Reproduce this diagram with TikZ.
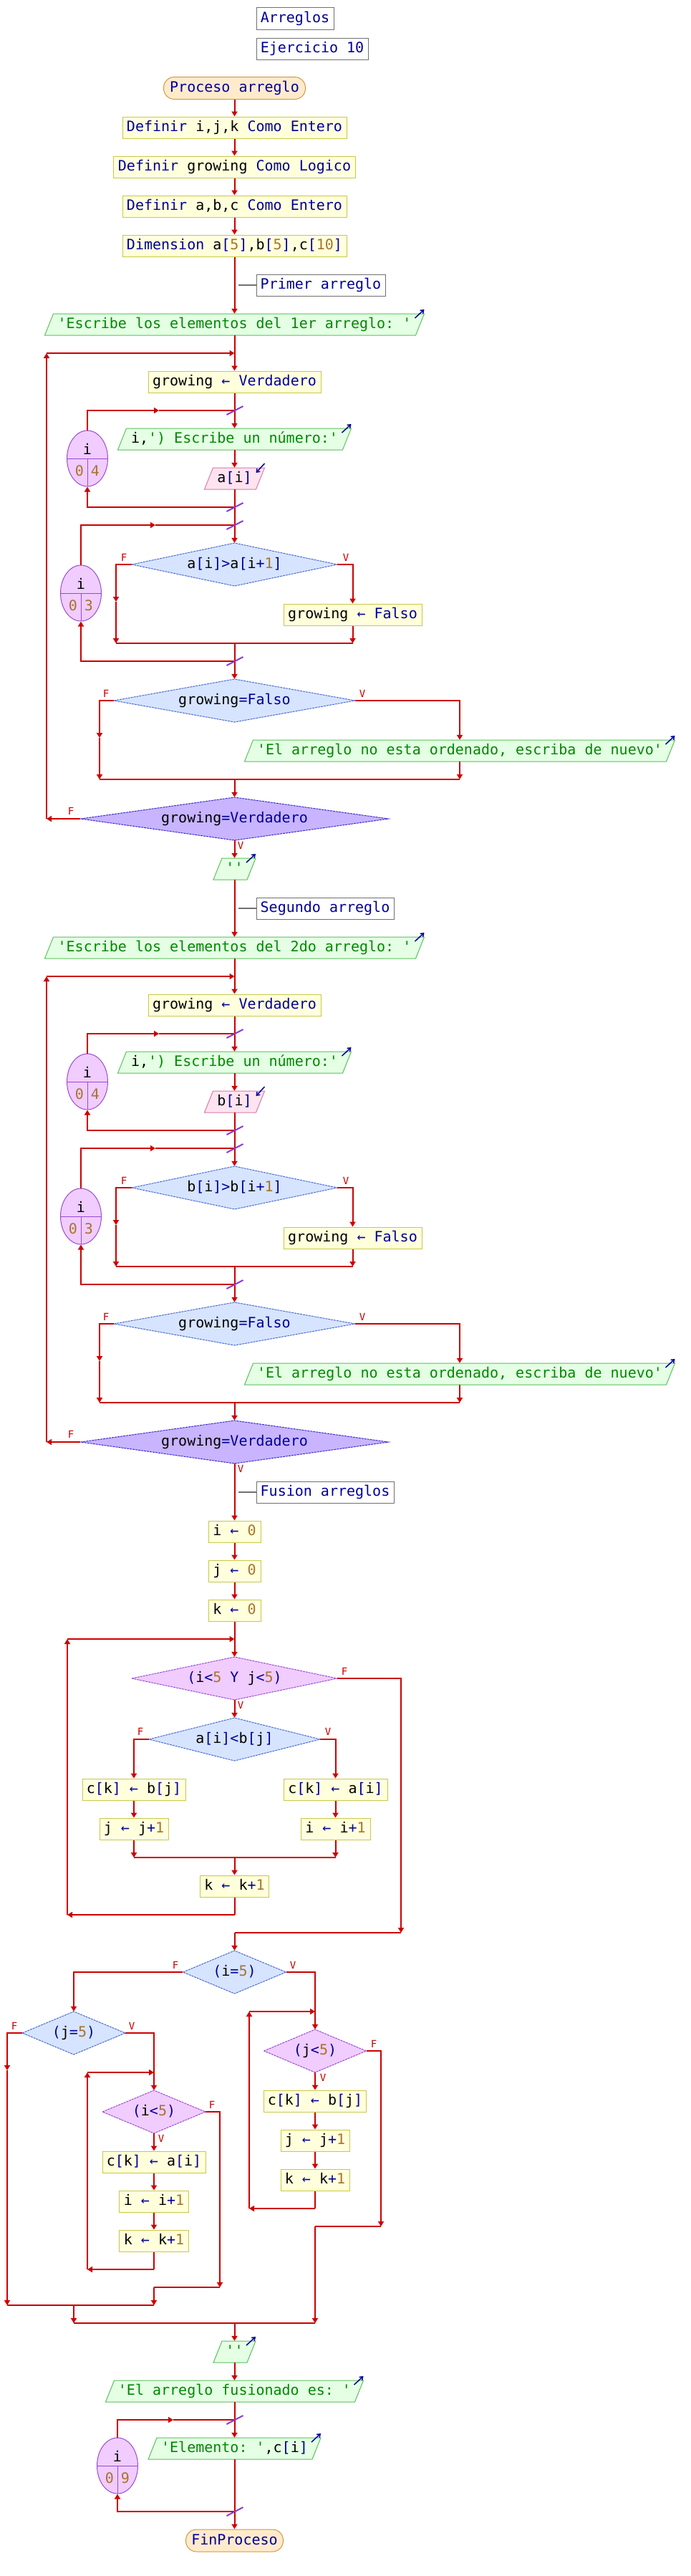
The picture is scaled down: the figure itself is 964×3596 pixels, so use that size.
\documentclass[tikz,border=0pt]{standalone}
\usepackage{fontspec}
\setmonofont{DejaVu Sans Mono}
\usetikzlibrary{arrows.meta,calc,shapes.geometric}
\definecolor{flowred}{HTML}{CC0000}
\definecolor{procfill}{HTML}{FFFFDC}
\definecolor{procline}{HTML}{C8C84A}
\definecolor{outfill}{HTML}{E4FFE4}
\definecolor{outcol}{HTML}{5CC05C}
\definecolor{infill}{HTML}{FFE4F0}
\definecolor{incol}{HTML}{D87AA8}
\definecolor{sifill}{HTML}{D6E4FF}
\definecolor{sicol}{HTML}{4A6AD0}
\definecolor{repfill}{HTML}{C8B4FF}
\definecolor{repcol}{HTML}{3A2AC8}
\definecolor{whfill}{HTML}{F0CCFF}
\definecolor{whcol}{HTML}{9A4AD0}
\definecolor{termfill}{HTML}{FFEBCC}
\definecolor{termcol}{HTML}{D09A40}
\definecolor{cmtcol}{HTML}{707070}
\definecolor{kwcol}{HTML}{000099}
\definecolor{numcol}{HTML}{A8732C}
\definecolor{strcol}{HTML}{008800}
\definecolor{slashcol}{HTML}{8A3CD0}
\newcommand\kwc[1]{\textcolor{kwcol}{#1}}
\newcommand\numc[1]{\textcolor{numcol}{#1}}
\newcommand\strc[1]{\textcolor{strcol}{#1}}
\tikzset{
 base/.style={font=\ttfamily\fontsize{20}{24}\selectfont, inner sep=0pt, minimum height=30pt, text height=15pt, text depth=4pt},
 proc/.style={base, draw=procline, fill=procfill, line width=1pt},
 cmt/.style={base, draw=cmtcol, fill=white, line width=1pt, text=kwcol},
 term/.style={base, draw=termcol, fill=termfill, line width=1pt, rounded corners=15pt, text=kwcol},
 txt/.style={base},
 flow/.style={draw=flowred, line width=2pt},
 arr/.style={flow, -{Triangle[length=7pt,width=8pt]}},
 lbl/.style={font=\ttfamily\fontsize{14}{16}\selectfont, text=flowred, inner sep=0pt},
 outshape/.style={fill=outfill, draw=outcol, line width=1pt},
 inshape/.style={fill=infill, draw=incol, line width=1pt},
 sist/.style={fill=sifill, draw=sicol, line width=1pt, dash pattern=on 3pt off 1pt},
 repst/.style={fill=repfill, draw=repcol, line width=1pt, dash pattern=on 3pt off 1pt},
 whst/.style={fill=whfill, draw=whcol, line width=1pt, dash pattern=on 3pt off 1pt},
 forshape/.style={ellipse, fill=whfill, draw=whcol, line width=1pt, minimum width=57pt, minimum height=78pt, inner sep=0pt},
 forline/.style={draw=whcol, line width=1pt},
 glyph/.style={draw=kwcol, line width=1.5pt, -{Straight Barb[length=4pt,width=6pt]}},
 slashst/.style={draw=slashcol, line width=2pt},
 cmtlink/.style={draw=cmtcol, line width=2pt},
}
\newcommand\outnode[5]{%
 \path[outshape] ({#2-#4/2},{#3+15}) -- ({#2-#4/2+12},{#3-15}) -- ({#2+#4/2},{#3-15}) -- ({#2+#4/2-12},{#3+15}) -- cycle;
 \node[txt, minimum width=#4] (#1) at (#2,#3) {#5};
 \draw[glyph] ({#2+#4/2-13},{#3-9}) -- ({#2+#4/2},{#3-21});
}
\newcommand\innode[5]{%
 \path[inshape] ({#2-#4/2},{#3+15}) -- ({#2-#4/2+12},{#3-15}) -- ({#2+#4/2},{#3-15}) -- ({#2+#4/2-12},{#3+15}) -- cycle;
 \node[txt, minimum width=#4] (#1) at (#2,#3) {#5};
 \draw[glyph] ({#2+#4/2},{#3-21}) -- ({#2+#4/2-12},{#3-8});
}
\newcommand\dnode[6]{%
 \path[#5] ({#2-#4/2},#3) -- (#2,{#3-30}) -- ({#2+#4/2},#3) -- (#2,{#3+30}) -- cycle;
 \node[txt, minimum width=#4, minimum height=60pt] (#1) at (#2,#3) {#6};
}
\newcommand\fornode[6]{%
 \node[forshape] (#1) at (#2,#3) {};
 \draw[forline] ({#2-28.5},#3) -- ({#2+28.5},#3);
 \draw[forline] (#2,#3) -- (#2,{#3+39});
 \node[txt] (#1v) at (#2,{#3-11}) {#4};
 \node[txt, text=numcol] (#1lo) at ({#2-11},{#3+19}) {#5};
 \node[txt, text=numcol] (#1hi) at ({#2+11},{#3+19}) {#6};
}
\newcommand\slashmark[2]{\draw[slashst] ({#1-11},{#2+6}) -- ({#1+12},{#2-6});}
\newcommand\arrsec[4]{%
\begin{scope}[shift={(0,#4)}]
\outnode{#1o}{327.5}{453}{530}{\strc{'Escribe los elementos del #3 arreglo: '}}
\coordinate (#1rj) at (327.5,493);
\coordinate (#1rt) at (65,493);
\coordinate (#1rl) at (65,1143);
\node[proc, minimum width=241] (#1g) at (327.5,533) {growing \kwc{← Verdadero}};
\coordinate (#1fa) at (327.5,573);
\coordinate (#1fam) at (222,573);
\outnode{#1p}{327.5}{613}{326}{i,\strc{') Escribe un número:'}}
\innode{#1in}{327.5}{668}{84}{#2\kwc{[}i\kwc{]}}
\coordinate (#1fb) at (327.5,708);
\fornode{#1ea}{122}{640}{i}{0}{4}
\coordinate (#1fc) at (327.5,733);
\coordinate (#1fcm) at (217,733);
\fornode{#1eb}{113}{828}{i}{0}{3}
\dnode{#1sa}{327.5}{788}{287}{sist}{#2\kwc{[}i\kwc{]>}#2\kwc{[}i\kwc{+}\numc{1}\kwc{]}}
\node[proc, minimum width=193] (#1gf) at (492.5,858) {growing \kwc{← Falso}};
\coordinate (#1sam) at (162,840);
\coordinate (#1jal) at (162,898);
\coordinate (#1jar) at (492.5,898);
\coordinate (#1jam) at (327.5,898);
\coordinate (#1fd) at (327.5,923);
\dnode{#1sb}{327.5}{978}{337}{sist}{growing\kwc{=Falso}}
\outnode{#1oe}{642}{1048}{601}{\strc{'El arreglo no esta ordenado, escriba de nuevo'}}
\coordinate (#1sbm) at (139,1030);
\coordinate (#1jbl) at (139,1088);
\coordinate (#1jbr) at (642,1088);
\coordinate (#1jbm) at (327.5,1088);
\dnode{#1r}{327.5}{1143}{430}{repst}{growing\kwc{=Verdadero}}
\node[lbl] (#1saF) at (173,778) {F};
\node[lbl] (#1saV) at (483,778) {V};
\node[lbl] (#1sbF) at (148,968) {F};
\node[lbl] (#1sbV) at (506,968) {V};
\node[lbl] (#1rF) at (99,1132) {F};
\node[lbl] (#1rV) at (336,1180) {V};
\draw[arr] (#1o.south) -- (#1g.north);
\draw[arr] (#1g.south) -- (#1p.north);
\draw[arr] (#1p.south) -- (#1in.north);
\draw[arr] (#1in.south) -- (#1sa.north);
\draw[arr] (#1ea.north) |- (#1fam);
\draw[flow] (#1fam) -- (#1fa);
\draw[arr] (#1fb) -| (#1ea.south);
\draw[arr] (#1eb.north) |- (#1fcm);
\draw[flow] (#1fcm) -- (#1fc);
\draw[arr] (#1fd) -| (#1eb.south);
\draw[arr] (#1sa.west) -| (#1sam);
\draw[arr] (#1sam) -- (#1jal);
\draw[arr] (#1sa.east) -| (#1gf.north);
\draw[arr] (#1gf.south) -- (#1jar);
\draw[flow] (#1jal) -- (#1jar);
\draw[arr] (#1jam) -- (#1sb.north);
\draw[arr] (#1sb.west) -| (#1sbm);
\draw[arr] (#1sbm) -- (#1jbl);
\draw[arr] (#1sb.east) -| (#1oe.north);
\draw[arr] (#1oe.south) -- (#1jbr);
\draw[flow] (#1jbl) -- (#1jbr);
\draw[arr] (#1jbm) -- (#1r.north);
\draw[arr] (#1r.west) -- (#1rl);
\draw[arr] (#1rl) -- (#1rt);
\draw[arr] (#1rt) -- (#1rj);
\slashmark{327.5}{573}\slashmark{327.5}{708}\slashmark{327.5}{733}\slashmark{327.5}{923}
\end{scope}}
\begin{document}
\begin{tikzpicture}[x=1pt,y=-1pt]
\useasboundingbox (0,0) rectangle (964,3596);
\fill[white] (0,0) rectangle (964,3596);
% header
\node[cmt, minimum width=108, minimum height=31] (cmA) at (412,25.5) {Arreglos};
\node[cmt, minimum width=156] (cmB) at (436,68) {Ejercicio 10};
\node[term, minimum width=198, minimum height=31] (start) at (327.5,123) {Proceso arreglo};
\node[proc, minimum width=313] (d1) at (327.5,178) {\kwc{Definir} i,j,k \kwc{Como Entero}};
\node[proc, minimum width=338] (d2) at (327.5,233) {\kwc{Definir} growing \kwc{Como Logico}};
\node[proc, minimum width=313] (d3) at (327.5,288) {\kwc{Definir} a,b,c \kwc{Como Entero}};
\node[proc, minimum width=313] (d4) at (327.5,343) {\kwc{Dimension} a\kwc{[}\numc{5}\kwc{]},b\kwc{[}\numc{5}\kwc{]},c\kwc{[}\numc{10}\kwc{]}};
\node[cmt, minimum width=180] (cmP) at (448,398) {Primer arreglo};
\coordinate (cmPa) at (333,398);
\draw[arr] (start.south) -- (d1.north);
\draw[arr] (d1.south) -- (d2.north);
\draw[arr] (d2.south) -- (d3.north);
\draw[arr] (d3.south) -- (d4.north);
\draw[cmtlink] (cmPa) -- (cmP.west);
% sections
\arrsec{sA}{a}{1er}{0}
\draw[arr] (d4.south) -- (sAo.north);
\outnode{oq}{327.5}{1213}{59}{\strc{''}}
\node[cmt, minimum width=192] (cmS) at (454,1268) {Segundo arreglo};
\coordinate (cmSa) at (333,1268);
\draw[cmtlink] (cmSa) -- (cmS.west);
\draw[arr] (sAr.south) -- (oq.north);
\arrsec{sB}{b}{2do}{870}
\draw[arr] (oq.south) -- (sBo.north);
% fusion
\node[cmt, minimum width=192] (cmF) at (454,2083) {Fusion arreglos};
\coordinate (cmFa) at (333,2083);
\draw[cmtlink] (cmFa) -- (cmF.west);
\node[proc, minimum width=73] (i0) at (327.5,2138) {i \kwc{←} \numc{0}};
\node[proc, minimum width=73] (j0) at (327.5,2193) {j \kwc{←} \numc{0}};
\node[proc, minimum width=73] (k0) at (327.5,2248) {k \kwc{←} \numc{0}};
\draw[arr] (sBr.south) -- (i0.north);
\draw[arr] (i0.south) -- (j0.north);
\draw[arr] (j0.south) -- (k0.north);
\dnode{wh}{327.5}{2343}{287}{whst}{\kwc{(}i\kwc{<}\numc{5} \kwc{Y} j\kwc{<}\numc{5}\kwc{)}}
\dnode{sc}{327.5}{2428}{239}{sist}{a\kwc{[}i\kwc{]<}b\kwc{[}j\kwc{]}}
\node[proc, minimum width=144] (cb) at (187,2498) {c\kwc{[}k\kwc{]} \kwc{←} b\kwc{[}j\kwc{]}};
\node[proc, minimum width=96] (jj) at (187,2553) {j \kwc{←} j\kwc{+}\numc{1}};
\node[proc, minimum width=145] (ca) at (468.5,2498) {c\kwc{[}k\kwc{]} \kwc{←} a\kwc{[}i\kwc{]}};
\node[proc, minimum width=97] (ii) at (468.5,2553) {i \kwc{←} i\kwc{+}\numc{1}};
\node[proc, minimum width=96] (kk) at (327.5,2633) {k \kwc{←} k\kwc{+}\numc{1}};
\coordinate (wj) at (327.5,2288);
\coordinate (wtl) at (94,2288);
\coordinate (wbk) at (327.5,2673);
\coordinate (wbl) at (94,2673);
\coordinate (wxr) at (560,2698);
\coordinate (wxm) at (327.5,2698);
\coordinate (scjl) at (187,2593);
\coordinate (scjr) at (468.5,2593);
\coordinate (scjm) at (327.5,2593);
\node[lbl] (whF) at (481,2333) {F};
\node[lbl] (whV) at (336,2380) {V};
\node[lbl] (scF) at (196,2417) {F};
\node[lbl] (scV) at (458,2417) {V};
\draw[arr] (k0.south) -- (wh.north);
\draw[arr] (wh.south) -- (sc.north);
\draw[arr] (sc.west) -| (cb.north);
\draw[arr] (sc.east) -| (ca.north);
\draw[arr] (cb.south) -- (jj.north);
\draw[arr] (ca.south) -- (ii.north);
\draw[arr] (jj.south) -- (scjl);
\draw[arr] (ii.south) -- (scjr);
\draw[flow] (scjl) -- (scjr);
\draw[arr] (scjm) -- (kk.north);
\draw[flow] (kk.south) -- (wbk);
\draw[arr] (wbk) -- (wbl);
\draw[arr] (wbl) -- (wtl);
\draw[arr] (wtl) -- (wj);
\draw[arr] (wh.east) -| (wxr);
\draw[flow] (wxr) -- (wxm);
% i=5
\dnode{sd}{327.5}{2753}{144}{sist}{\kwc{(}i\kwc{=}\numc{5}\kwc{)}}
\draw[arr] (wxm) -- (sd.north);
\dnode{se}{103}{2838}{144}{sist}{\kwc{(}j\kwc{=}\numc{5}\kwc{)}}
\dnode{wb}{215}{2948}{144}{whst}{\kwc{(}i\kwc{<}\numc{5}\kwc{)}}
\node[proc, minimum width=144] (ca2) at (215,3018) {c\kwc{[}k\kwc{]} \kwc{←} a\kwc{[}i\kwc{]}};
\node[proc, minimum width=97] (ii2) at (215,3073) {i \kwc{←} i\kwc{+}\numc{1}};
\node[proc, minimum width=97] (kk2) at (215,3128) {k \kwc{←} k\kwc{+}\numc{1}};
\dnode{wc}{440}{2863}{143}{whst}{\kwc{(}j\kwc{<}\numc{5}\kwc{)}}
\node[proc, minimum width=143] (cb2) at (440,2933) {c\kwc{[}k\kwc{]} \kwc{←} b\kwc{[}j\kwc{]}};
\node[proc, minimum width=96] (jj2) at (440,2988) {j \kwc{←} j\kwc{+}\numc{1}};
\node[proc, minimum width=96] (kk3) at (440,3043) {k \kwc{←} k\kwc{+}\numc{1}};
\coordinate (w2tl) at (122,2893);
\coordinate (w2tj) at (215,2893);
\coordinate (w2b) at (215,3168);
\coordinate (w2bl) at (122,3168);
\coordinate (w2xr) at (307,3193);
\coordinate (w2xm) at (215,3193);
\coordinate (sejr) at (215,3218);
\coordinate (sejl) at (10,3218);
\coordinate (sejm) at (103,3218);
\coordinate (selm) at (10,2890);
\coordinate (w3tl) at (348,2808);
\coordinate (w3tj) at (440,2808);
\coordinate (w3b) at (440,3083);
\coordinate (w3bl) at (348,3083);
\coordinate (w3xr) at (532,3108);
\coordinate (w3xm) at (440,3108);
\coordinate (sdjl) at (103,3243);
\coordinate (sdjr) at (440,3243);
\coordinate (sdjm) at (327.5,3243);
\node[lbl] (sdF) at (245,2743) {F};
\node[lbl] (sdV) at (409,2743) {V};
\node[lbl] (seF) at (20,2828) {F};
\node[lbl] (seV) at (184,2828) {V};
\node[lbl] (wbF) at (296,2938) {F};
\node[lbl] (wbV) at (225,2985) {V};
\node[lbl] (wcF) at (522,2853) {F};
\node[lbl] (wcV) at (451,2900) {V};
\draw[arr] (sd.west) -| (se.north);
\draw[arr] (sd.east) -| (wc.north);
\draw[arr] (se.west) -| (selm);
\draw[arr] (selm) -- (sejl);
\draw[arr] (se.east) -| (wb.north);
\draw[arr] (wb.south) -- (ca2.north);
\draw[arr] (ca2.south) -- (ii2.north);
\draw[arr] (ii2.south) -- (kk2.north);
\draw[flow] (kk2.south) -- (w2b);
\draw[arr] (w2b) -- (w2bl);
\draw[arr] (w2bl) -- (w2tl);
\draw[arr] (w2tl) -- (w2tj);
\draw[arr] (wb.east) -| (w2xr);
\draw[flow] (w2xr) -- (w2xm);
\draw[arr] (w2xm) -- (sejr);
\draw[flow] (sejl) -- (sejr);
\draw[arr] (sejm) -- (sdjl);
\draw[arr] (wc.south) -- (cb2.north);
\draw[arr] (cb2.south) -- (jj2.north);
\draw[arr] (jj2.south) -- (kk3.north);
\draw[flow] (kk3.south) -- (w3b);
\draw[arr] (w3b) -- (w3bl);
\draw[arr] (w3bl) -- (w3tl);
\draw[arr] (w3tl) -- (w3tj);
\draw[arr] (wc.east) -| (w3xr);
\draw[flow] (w3xr) -- (w3xm);
\draw[arr] (w3xm) -- (sdjr);
\draw[flow] (sdjl) -- (sdjr);
% end part
\outnode{oq2}{327.5}{3283}{59}{\strc{''}}
\outnode{of}{327.5}{3338}{360}{\strc{'El arreglo fusionado es: '}}
\outnode{oel}{327.5}{3418}{241}{\strc{'Elemento: '},c\kwc{[}i\kwc{]}}
\fornode{ec}{164}{3442}{i}{0}{9}
\coordinate (f3a) at (327.5,3378);
\coordinate (f3m) at (242,3378);
\coordinate (f3b) at (327.5,3506);
\node[term, minimum width=136, minimum height=31] (fin) at (327.5,3546.5) {FinProceso};
\draw[arr] (sdjm) -- (oq2.north);
\draw[arr] (oq2.south) -- (of.north);
\draw[arr] (of.south) -- (oel.north);
\draw[arr] (oel.south) -- (fin.north);
\draw[arr] (ec.north) |- (f3m);
\draw[flow] (f3m) -- (f3a);
\draw[arr] (f3b) -| (ec.south);
\slashmark{327.5}{3378}\slashmark{327.5}{3506}
\end{tikzpicture}
\end{document}
